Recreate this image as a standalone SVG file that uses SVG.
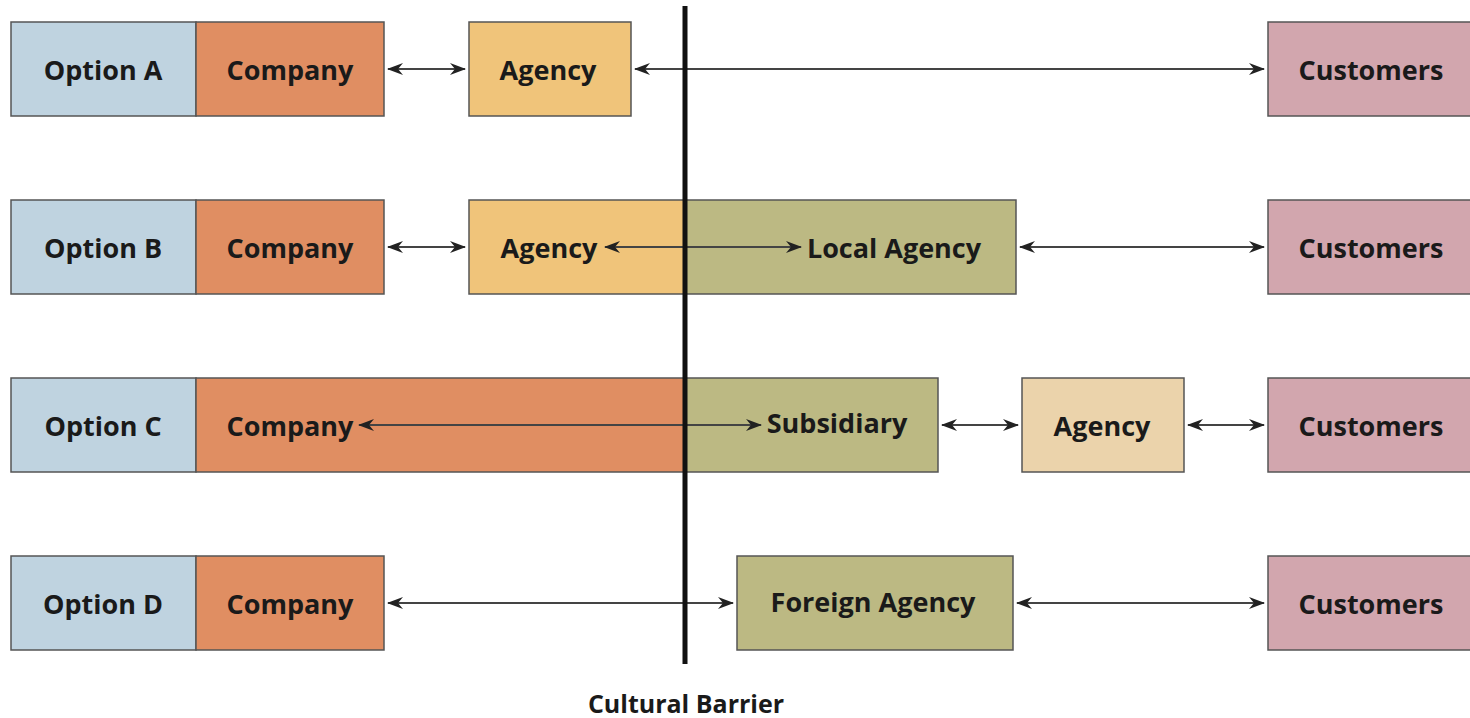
<svg xmlns="http://www.w3.org/2000/svg" width="1470" height="718" viewBox="0 0 1470 718">
<style>
rect{stroke:#555;stroke-width:1.5}
.opt{fill:#bfd3e0}.co{fill:#e08e62}.ag{fill:#f0c47a}.cu{fill:#d2a6ae}.ol{fill:#bcb983}.la{fill:#ebd3ab}
text{font-family:"Open Sans","Liberation Sans",sans-serif;font-weight:700;font-size:27px;fill:#1a1a1a;text-anchor:middle}
.c line{stroke:#444;stroke-width:1.8;marker-start:url(#a);marker-end:url(#a)}
</style>
<defs>
<marker id="a" viewBox="0 0 16 12" refX="15" refY="6" markerWidth="16" markerHeight="12" markerUnits="userSpaceOnUse" orient="auto-start-reverse">
<path d="M0,0 L16,6 L0,12 L5,6 Z" fill="#222"/>
</marker>
</defs>
<g id="rowA">
<g id="optA"><rect class="opt" x="11" y="22" width="185" height="94"/><text x="103" y="80">Option A</text></g>
<g id="coA"><rect class="co" x="196" y="22" width="188" height="94"/><text x="290" y="80">Company</text></g>
<g id="agA"><rect class="ag" x="469" y="22" width="162" height="94"/><text x="548" y="80">Agency</text></g>
<g id="cuA"><rect class="cu" x="1268" y="22" width="206" height="94"/><text x="1371" y="80">Customers</text></g>
</g>
<g id="rowB">
<g id="optB"><rect class="opt" x="11" y="200" width="185" height="94"/><text x="103" y="258">Option B</text></g>
<g id="coB"><rect class="co" x="196" y="200" width="188" height="94"/><text x="290" y="258">Company</text></g>
<g id="agB"><rect class="ag" x="469" y="200" width="217" height="94"/><text x="549" y="258">Agency</text></g>
<g id="laB"><rect class="ol" x="686" y="200" width="330" height="94"/><text x="894" y="258">Local Agency</text></g>
<g id="cuB"><rect class="cu" x="1268" y="200" width="206" height="94"/><text x="1371" y="258">Customers</text></g>
</g>
<g id="rowC">
<g id="optC"><rect class="opt" x="11" y="378" width="185" height="94"/><text x="103" y="436">Option C</text></g>
<g id="coC"><rect class="co" x="196" y="378" width="490" height="94"/><text x="290" y="436">Company</text></g>
<g id="subC"><rect class="ol" x="686" y="378" width="252" height="94"/><text x="837" y="433">Subsidiary</text></g>
<g id="agC"><rect class="la" x="1022" y="378" width="162" height="94"/><text x="1102" y="436">Agency</text></g>
<g id="cuC"><rect class="cu" x="1268" y="378" width="206" height="94"/><text x="1371" y="436">Customers</text></g>
</g>
<g id="rowD">
<g id="optD"><rect class="opt" x="11" y="556" width="185" height="94"/><text x="103" y="614">Option D</text></g>
<g id="coD"><rect class="co" x="196" y="556" width="188" height="94"/><text x="290" y="614">Company</text></g>
<g id="faD"><rect class="ol" x="737" y="556" width="276" height="94"/><text x="873" y="612">Foreign Agency</text></g>
<g id="cuD"><rect class="cu" x="1268" y="556" width="206" height="94"/><text x="1371" y="614">Customers</text></g>
</g>
<g id="connectors" class="c">
<line x1="388" y1="69" x2="465" y2="69"/>
<line x1="635" y1="69" x2="1264" y2="69"/>
<line x1="388" y1="247" x2="465" y2="247"/>
<line x1="605" y1="247" x2="801" y2="247"/>
<line x1="1020" y1="247" x2="1264" y2="247"/>
<line x1="359" y1="425" x2="761" y2="425"/>
<line x1="942" y1="425" x2="1018" y2="425"/>
<line x1="1188" y1="425" x2="1264" y2="425"/>
<line x1="388" y1="603" x2="733" y2="603"/>
<line x1="1017" y1="603" x2="1264" y2="603"/>
</g>
<g id="barrier">
<line x1="685" y1="6" x2="685" y2="664" stroke="#111" stroke-width="5"/>
<text x="686" y="713" style="font-size:25px">Cultural Barrier</text>
</g>
</svg>
